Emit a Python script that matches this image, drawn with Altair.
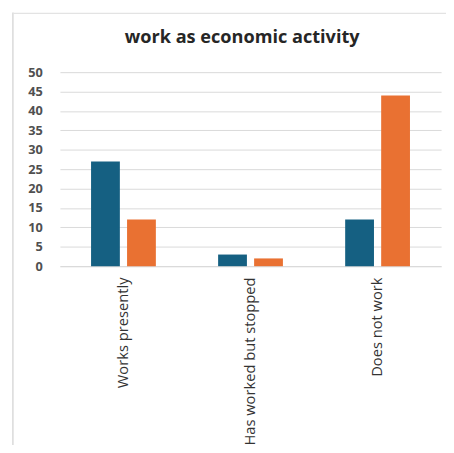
import altair as alt
import pandas as pd

title_text = "work as economic activity"
categories = ["Works presently", "Has worked but stopped", "Does not work"]
series_names = ["Series 1", "Series 2"]
series_1 = [27, 3, 12]
series_2 = [12, 2, 44]
y_ticks = [0, 5, 10, 15, 20, 25, 30, 35, 40, 45, 50]
colors = ["#156082", "#E97132"]

rows = []
for c, a, b in zip(categories, series_1, series_2):
    rows.append({"category": c, "series": series_names[0], "value": a})
    rows.append({"category": c, "series": series_names[1], "value": b})
df = pd.DataFrame(rows)

FONT = "Open Sans"

bars = alt.Chart(df).mark_bar().encode(
    x=alt.X(
        "category:N",
        sort=categories,
        title=None,
        scale=alt.Scale(paddingInner=0.49, paddingOuter=0.245),
        axis=alt.Axis(
            labelAngle=-90,
            labelAlign="right",
            labelBaseline="middle",
            labelPadding=11,
            labelFontSize=15,
            labelFont=FONT,
            labelColor="#333333",
            ticks=False,
            tickSize=0,
            domain=True,
            domainColor="#d9d9d9",
            domainWidth=1,
        ),
    ),
    xOffset=alt.XOffset("series:N", sort=series_names, scale=alt.Scale(paddingInner=0.2)),
    y=alt.Y(
        "value:Q",
        title=None,
        scale=alt.Scale(domain=[0, 50]),
        axis=alt.Axis(
            values=y_ticks,
            domain=False,
            ticks=False,
            tickSize=0,
            labelPadding=18,
            labelFontSize=13,
            labelFont=FONT,
            labelFontWeight="bold",
            labelColor="#505050",
            gridColor="#d9d9d9",
            gridWidth=1,
        ),
    ),
    color=alt.Color(
        "series:N",
        scale=alt.Scale(domain=series_names, range=colors),
        legend=None,
    ),
)

frame_left = alt.Chart(pd.DataFrame({"k": [0]})).mark_rule(color="#d9d9d9", strokeWidth=1.5).encode(
    x=alt.value(-48), y=alt.value(-61), y2=alt.value(384)
)
frame_top = alt.Chart(pd.DataFrame({"k": [0]})).mark_rule(color="#e3e3e3", strokeWidth=1.5).encode(
    x=alt.value(-48), x2=alt.value(394), y=alt.value(-60)
)
title = alt.Chart(pd.DataFrame({"t": [title_text]})).mark_text(
    font=FONT, fontSize=18.5, fontWeight="bold", color="#262626",
    align="center", baseline="alphabetic",
).encode(x=alt.value(186), y=alt.value(-30), text="t:N")

chart = alt.layer(frame_left, frame_top, title, bars).properties(
    width=389,
    height=198,
    autosize=alt.AutoSizeParams(type="none"),
    padding={"left": 53, "top": 61, "right": 5, "bottom": 178},
).configure_view(stroke=None)

chart.save("out.html", embed_options={"renderer": "svg", "actions": False})
